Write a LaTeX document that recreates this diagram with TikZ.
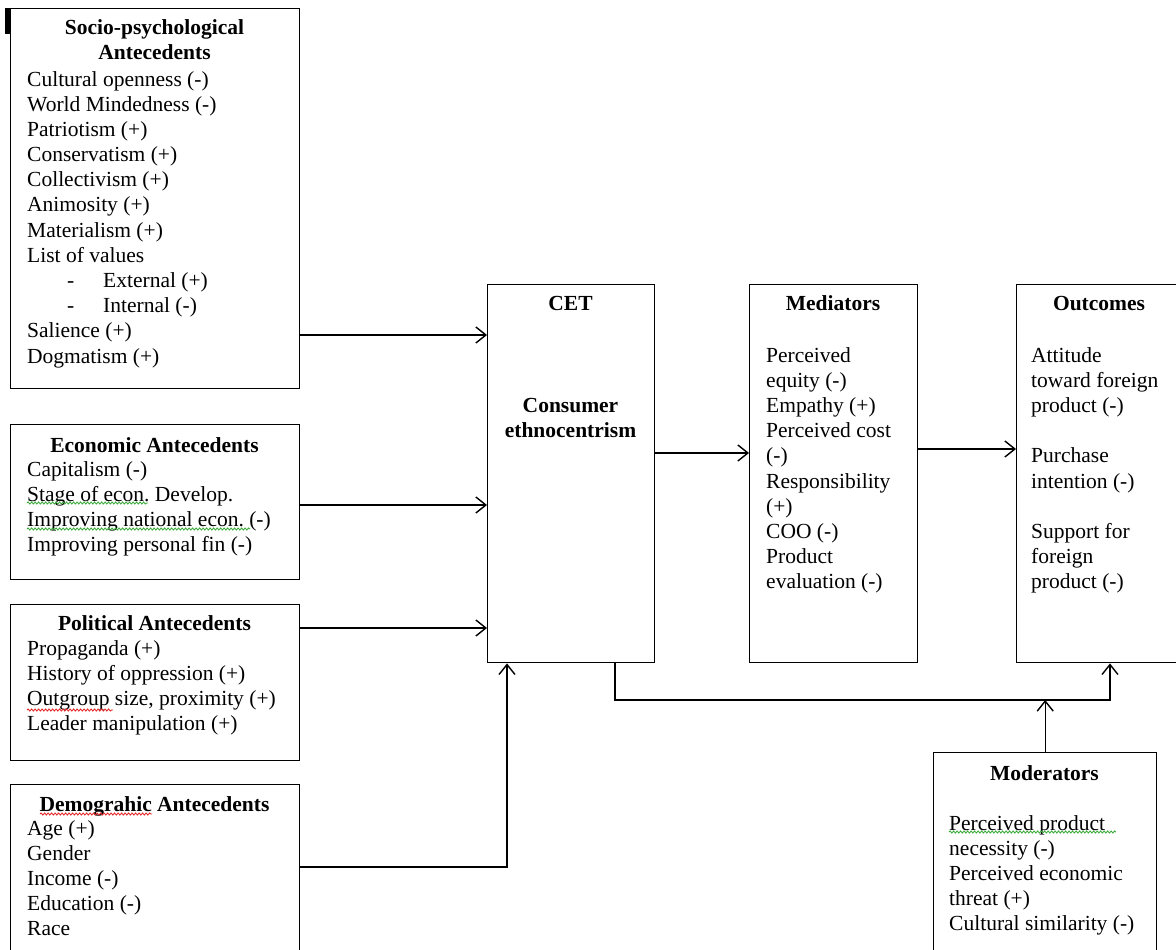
\documentclass[tikz,border=0pt]{standalone}
\usepackage{fontspec}
\setmainfont{Liberation Serif}
\usetikzlibrary{arrows.meta,decorations.pathmorphing}
\frenchspacing
\newcommand{\blk}[1]{\begin{tabular}[t]{@{}l@{}}#1\end{tabular}}
\newcommand{\blkc}[1]{\begin{tabular}[t]{@{}c@{}}#1\end{tabular}}
\newcommand{\subit}[1]{\hspace*{40pt}\makebox[36pt][l]{-}#1}
\definecolor{spellgreen}{RGB}{60,170,60}
\definecolor{spellred}{RGB}{230,40,40}
\begin{document}
\begin{tikzpicture}[x=1pt,y=-1pt,
  font=\fontsize{21.5}{25.2}\selectfont\frenchspacing,
  box/.style={draw, line width=1.4pt, anchor=north west, inner sep=0pt},
  txt/.style={anchor=base west, inner sep=0pt},
  ttl/.style={anchor=base, inner sep=0pt, font=\fontsize{21.5}{25.2}\selectfont\bfseries},
  arr/.style={line width=1.4pt, -{Straight Barb[length=10pt,width=16pt]}},
  squig/.style={line width=0.9pt, decorate, decoration={snake, amplitude=1pt, segment length=3.5pt}}]
\clip (0,0) rectangle (1176,950);
\fill[white] (0,0) rectangle (1176,950);
% boxes
\node[box, minimum width=289pt, minimum height=380pt] (socio) at (10,8) {};
\node[box, minimum width=289pt, minimum height=155pt] (econ) at (10,424) {};
\node[box, minimum width=289pt, minimum height=156pt] (pol) at (10,604) {};
\node[box, minimum width=289pt, minimum height=175pt] (demo) at (10,784) {};
\node[box, minimum width=167pt, minimum height=378pt] (cet) at (487,284) {};
\node[box, minimum width=168pt, minimum height=378pt] (med) at (749,284) {};
\node[box, minimum width=166pt, minimum height=378pt] (out) at (1016,284) {};
\node[box, minimum width=223pt, minimum height=210pt] (mod) at (933,752) {};
\fill[black] (5,8) rectangle (10,34);
% texts
\node[ttl] (sociot) at (154.5,35) {\blkc{Socio-psychological\\[-0.8pt]Antecedents}};
\node[txt] (socioi) at (27,86) {\blk{Cultural openness (-)\\ World Mindedness (-)\\ Patriotism (+)\\ Conservatism (+)\\ Collectivism (+)\\ Animosity (+)\\ Materialism (+)\\ List of values\\ \subit{External (+)}\\ \subit{Internal (-)}\\ Salience (+)\\ Dogmatism (+)}};
\node[ttl] (econt) at (154.5,452) {Economic Antecedents};
\node[txt] (econi) at (27,476) {\blk{Capitalism (-)\\ Stage of econ. Develop.\\ Improving national econ. (-)\\ Improving personal fin (-)}};
\node[ttl] (polt) at (154.5,630) {Political Antecedents};
\node[txt] (poli) at (27,655) {\blk{Propaganda (+)\\ History of oppression (+)\\ Outgroup size, proximity (+)\\ Leader manipulation (+)}};
\node[ttl] (demot) at (154.5,811) {Demograhic Antecedents};
\node[txt] (demoi) at (27,835) {\blk{Age (+)\\ Gender\\ Income (-)\\ Education (-)\\ Race}};
\node[ttl] (cett) at (570.5,310) {CET};
\node[ttl] (ceti) at (570.5,412) {\blkc{Consumer\\ ethnocentrism}};
\node[ttl] (medt) at (833,310) {Mediators};
\node[txt] (medi) at (766,362) {\blk{Perceived\\ equity (-)\\ Empathy (+)\\ Perceived cost\\ (-)\\ Responsibility\\ (+)\\ COO (-)\\ Product\\ evaluation (-)}};
\node[ttl] (outt) at (1099,310) {Outcomes};
\node[txt] (outi) at (1031,362) {\blk{Attitude\\ toward foreign\\ product (-)\\ \\ Purchase\\ intention (-)\\ \\ Support for\\ foreign\\ product (-)}};
\node[ttl] (modt) at (1044.5,780) {Moderators};
\node[txt] (modi) at (949,830) {\blk{Perceived product\\ necessity (-)\\ Perceived economic\\ threat (+)\\ Cultural similarity (-)}};
% spell-check underlines
\draw[squig, spellgreen] (27,503) -- (148,503);
\draw[squig, spellgreen] (27,529) -- (250,529);
\draw[squig, spellred] (27,710) -- (113,710);
\draw[squig, spellred] (40,814) -- (152,814);
\draw[squig, spellgreen] (949,832) -- (1116,832);
% connector coordinates
\coordinate (r1) at (0,335);
\coordinate (r2) at (0,505);
\coordinate (r3) at (0,628);
\coordinate (r4) at (0,867);
\coordinate (r5) at (0,453);
\coordinate (r6) at (0,449);
\coordinate (hl) at (0,700);
\coordinate (xd) at (507,0);
\coordinate (xc) at (615,0);
\coordinate (xo) at (1110,0);
% connectors
\draw[arr] (socio.east |- r1) -- (cet.west |- r1);
\draw[arr] (econ.east |- r2) -- (cet.west |- r2);
\draw[arr] (pol.east |- r3) -- (cet.west |- r3);
\draw[arr] (demo.east |- r4) -| (xd |- cet.south);
\draw[arr] (cet.east |- r5) -- (med.west |- r5);
\draw[arr] (med.east |- r6) -- (out.west |- r6);
\draw[arr] (xc |- cet.south) -- (xc |- hl) -| (xo |- out.south);
\draw[arr] (mod.north) -- (mod.north |- hl);
\end{tikzpicture}
\end{document}
